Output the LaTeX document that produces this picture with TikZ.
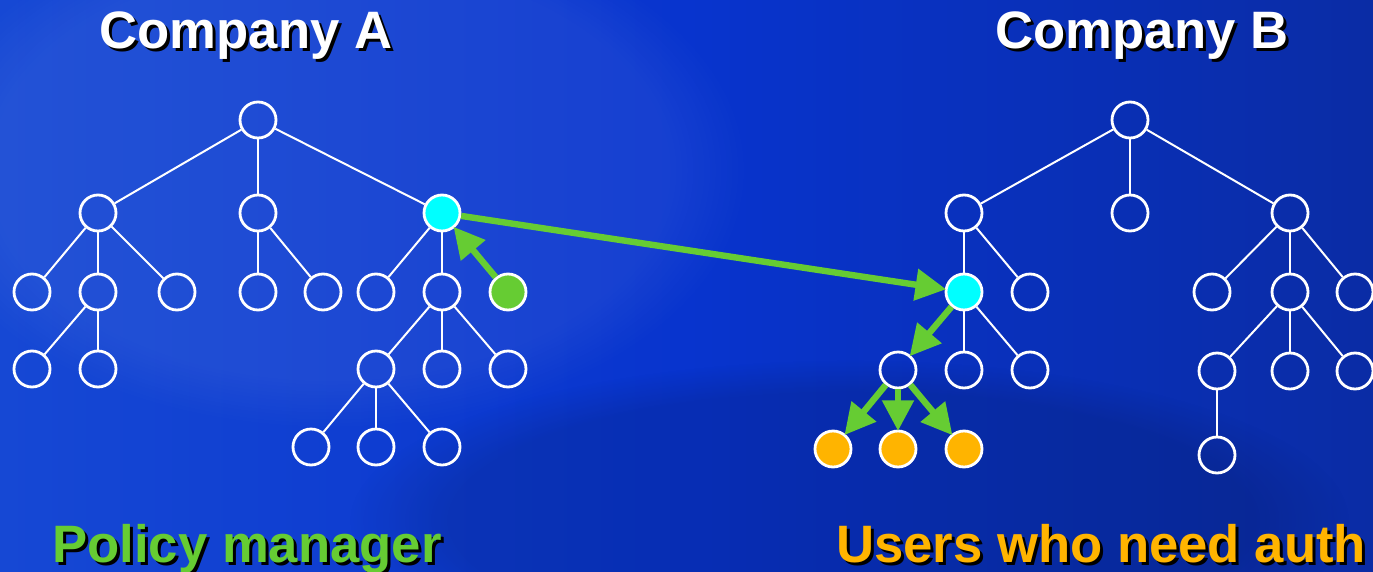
\documentclass[tikz,border=0pt]{standalone}
\usepackage{fontspec}
\setmainfont{Liberation Sans}
\usetikzlibrary{arrows.meta,fadings}
\definecolor{bgL}{RGB}{22,72,212}
\definecolor{bgM}{RGB}{8,52,206}
\definecolor{bgR}{RGB}{10,44,165}
\definecolor{pgreen}{RGB}{102,204,51}
\definecolor{pcyan}{RGB}{0,255,255}
\definecolor{porange}{RGB}{255,180,0}
\tikzset{
  nd/.style={circle,draw=white,line width=2.1pt,minimum size=27pt,inner sep=0pt},
  tl/.style={white,line width=1.5pt},
  garrow/.style={pgreen,line width=4.8pt,-{Triangle[length=23pt,width=23pt]},shorten >=-1pt},
  bigtext/.style={font=\fontsize{39.5}{40}\selectfont\bfseries,inner sep=0pt,anchor=base},
  shadowtext/.style={bigtext,black}
}
\begin{document}
\begin{tikzpicture}[x=0.75pt,y=-0.75pt]
\useasboundingbox (0,0) rectangle (1373,571);
\begin{scope}
\clip (0,0) rectangle (1373,571);
\shade[left color=bgL,right color=bgR,middle color=bgM] (0,0) rectangle (1373,571);
\fill[white,opacity=0.06,path fading=circle with fuzzy edge 20 percent] (330,170) ellipse (420 and 260);
\fill[black,opacity=0.12,path fading=circle with fuzzy edge 20 percent] (850,520) ellipse (500 and 160);
% Company A tree
\node[nd] (a0) at (258,120) {};
\node[nd] (a1) at (98,213) {};
\node[nd] (a2) at (258,213) {};
\node[nd,fill=pcyan] (a3) at (442,213) {};
\node[nd] (a11) at (32,292) {};
\node[nd] (a12) at (98,292) {};
\node[nd] (a13) at (177,292) {};
\node[nd] (a21) at (258,292) {};
\node[nd] (a22) at (323,292) {};
\node[nd] (a31) at (376,292) {};
\node[nd] (a32) at (442,292) {};
\node[nd,fill=pgreen] (a33) at (508,292) {};
\node[nd] (a121) at (32,369) {};
\node[nd] (a122) at (98,369) {};
\node[nd] (a321) at (376,369) {};
\node[nd] (a322) at (442,369) {};
\node[nd] (a323) at (508,369) {};
\node[nd] (a3211) at (311,447) {};
\node[nd] (a3212) at (376,447) {};
\node[nd] (a3213) at (442,447) {};
\foreach \p/\c in {a0/a1,a0/a2,a0/a3,a1/a11,a1/a12,a1/a13,a2/a21,a2/a22,a3/a31,a3/a32,a12/a121,a12/a122,a32/a321,a32/a322,a32/a323,a321/a3211,a321/a3212,a321/a3213}
  \draw[tl] (\p) -- (\c);
% Company B tree
\node[nd] (b0) at (1130,120) {};
\node[nd] (b1) at (964,213) {};
\node[nd] (b2) at (1130,213) {};
\node[nd] (b3) at (1290,213) {};
\node[nd,fill=pcyan] (b11) at (964,292) {};
\node[nd] (b12) at (1030,292) {};
\node[nd] (b111) at (898,370) {};
\node[nd] (b112) at (964,370) {};
\node[nd] (b113) at (1030,370) {};
\node[nd,fill=porange] (b1111) at (833,449) {};
\node[nd,fill=porange] (b1112) at (898,449) {};
\node[nd,fill=porange] (b1113) at (964,449) {};
\node[nd] (b31) at (1212,292) {};
\node[nd] (b32) at (1290,292) {};
\node[nd] (b33) at (1355,292) {};
\node[nd] (b321) at (1217,371) {};
\node[nd] (b322) at (1290,371) {};
\node[nd] (b323) at (1355,371) {};
\node[nd] (b3211) at (1217,455) {};
\foreach \p/\c in {b0/b1,b0/b2,b0/b3,b1/b11,b1/b12,b11/b112,b11/b113,b3/b31,b3/b32,b3/b33,b32/b321,b32/b322,b32/b323,b321/b3211}
  \draw[tl] (\p) -- (\c);
% green arrows
\draw[garrow] (a33) -- (a3);
\draw[garrow] (a3) -- (b11);
\draw[garrow] (b11) -- (b111);
\draw[garrow] (b111) -- (b1111);
\draw[garrow] (b111) -- (b1112);
\draw[garrow] (b111) -- (b1113);
% texts
\node[shadowtext] (tAs) at (249,51) {Company A};
\node[bigtext,white] (tA) at (246,48) {Company A};
\node[shadowtext] (tBs) at (1145,51) {Company B};
\node[bigtext,white] (tB) at (1142,48) {Company B};
\node[shadowtext,anchor=base west] (pms) at (55,565) {Policy manager};
\node[bigtext,anchor=base west,text=pgreen] (pm) at (52,562) {Policy manager};
\node[shadowtext,anchor=base west] (uns) at (839,565) {Users who need auth};
\node[bigtext,anchor=base west,text=porange] (un) at (836,562) {Users who need auth};
\end{scope}
\end{tikzpicture}
\end{document}
